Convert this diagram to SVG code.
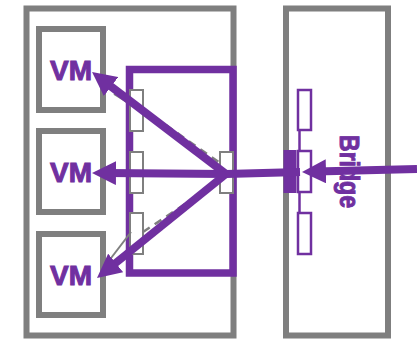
<svg xmlns="http://www.w3.org/2000/svg" width="417" height="339" viewBox="0 0 417 339">
<defs>
<style>
.box{fill:#fff;stroke:#7f7f7f;stroke-width:6}
.port{fill:#fff;stroke:#7f7f7f;stroke-width:2}
.bport{fill:#fff;stroke:#7030a0;stroke-width:2.5}
.sw{fill:none;stroke:#7030a0;stroke-width:7.5}
.lbl{font-family:"Liberation Sans",Arial,sans-serif;font-weight:bold;fill:#7030a0;stroke:#7030a0;stroke-width:1}
.arr{stroke:#7030a0;stroke-width:8;fill:none}
.thin{stroke:#7f7f7f;stroke-width:2;fill:none}
.dash{stroke:#7f7f7f;stroke-width:2.5;stroke-dasharray:8,6;fill:none}
</style>
<marker id="ah" viewBox="0 0 10 10" refX="4" refY="5" markerWidth="3" markerHeight="3" orient="auto" markerUnits="strokeWidth">
<path d="M0,0 L10,5 L0,10 z" fill="#7030a0"/>
</marker>
</defs>
<g id="host"><rect class="box" x="26.5" y="8.5" width="207" height="327"/></g>
<g id="vm1"><rect class="box" x="39" y="29" width="64" height="81"/><text class="lbl" x="71" y="80" font-size="28" text-anchor="middle" textLength="42" lengthAdjust="spacingAndGlyphs">VM</text></g>
<g id="vm2"><rect class="box" x="39" y="131" width="64" height="81"/><text class="lbl" x="71" y="182" font-size="28" text-anchor="middle" textLength="42" lengthAdjust="spacingAndGlyphs">VM</text></g>
<g id="vm3"><rect class="box" x="39" y="234" width="64" height="81"/><text class="lbl" x="71" y="285" font-size="28" text-anchor="middle" textLength="42" lengthAdjust="spacingAndGlyphs">VM</text></g>
<g id="bridge"><rect class="box" x="286" y="8.5" width="102" height="327"/>
<line x1="299.5" y1="130" x2="299.5" y2="212" stroke="#7030a0" stroke-width="2.5"/>
<rect class="bport" x="298" y="90" width="13" height="40"/>
<rect class="bport" x="298" y="151" width="13" height="41"/>
<rect class="bport" x="298" y="213" width="13" height="41"/>
<rect x="283.5" y="150" width="13" height="43" fill="#7030a0"/>
<text class="lbl" font-size="28" text-anchor="middle" textLength="73" lengthAdjust="spacingAndGlyphs" transform="translate(340,171.5) rotate(90)">Bridge</text>
</g>
<g id="switch"><rect class="sw" x="129.5" y="69.5" width="103.5" height="203.5"/>
<rect class="port" x="130" y="90" width="13" height="41"/>
<rect class="port" x="130" y="152" width="13" height="41"/>
<rect class="port" x="130" y="213" width="13" height="41"/>
<rect class="port" x="220" y="152" width="13" height="41"/>
</g>
<g id="connectors">
<line class="dash" x1="143" y1="109" x2="220" y2="163"/>
<line class="dash" x1="143" y1="232" x2="220" y2="181"/>
<line class="thin" x1="131" y1="232" x2="108" y2="262"/>
<line class="thin" x1="130" y1="104" x2="114" y2="94"/>
<line class="arr" x1="226" y1="174" x2="300" y2="172"/>
<line class="arr" x1="226" y1="174" x2="106.4" y2="173" marker-end="url(#ah)"/>
<line class="arr" x1="226" y1="174" x2="103.5" y2="80.7" marker-end="url(#ah)"/>
<line class="arr" x1="226" y1="174" x2="108.2" y2="269" marker-end="url(#ah)"/>
<line class="arr" x1="417" y1="169" x2="316.4" y2="171.6" marker-end="url(#ah)"/>
</g>
</svg>
